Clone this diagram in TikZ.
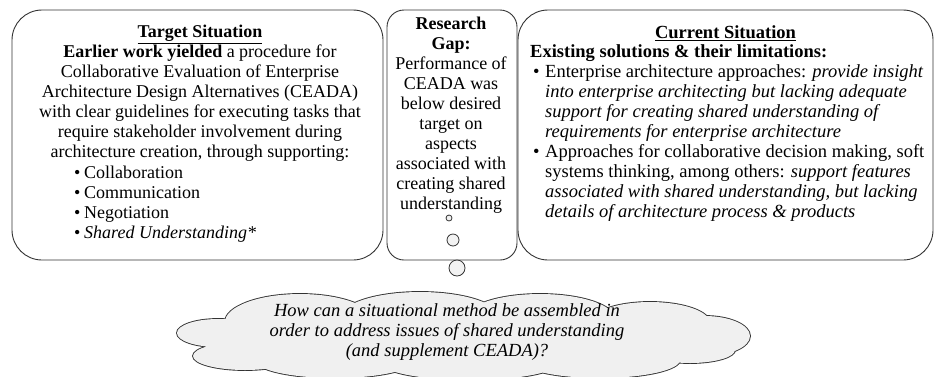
\documentclass[tikz,border=0pt]{standalone}
\usepackage{fontspec}
\setmainfont{Liberation Serif}
\usetikzlibrary{positioning}
\tikzset{
x=1pt, y=-1pt, % pixel-like units, y grows downwards
situation/.style={draw=black!80, line width=0.9pt, rounded corners=30pt, fill=white}, % the two situation boxes
gapbox/.style={situation, rounded corners=17pt}, % the research gap box
txt/.style={font=\fontsize{18}{20}\selectfont, inner sep=0pt}, % text inside the boxes
bigtxt/.style={font=\fontsize{18.5}{20}\selectfont, inner sep=0pt}, % slightly wider text on the right
bubble/.style={circle, draw=black!80, line width=0.8pt, fill=gray!10, inner sep=0pt}, % thought bubbles
puffline/.style={draw=black!80, line width=1.8pt, fill=gray!12}, % outline of the cloud, half of it gets covered
pufffill/.style={fill=gray!12}, % covers the inner lines of the cloud
}

\begin{document}
\begin{tikzpicture}
        \useasboundingbox (0,0) rectangle (936,376);
        \clip (0,0) rectangle (936,376);

        \node[situation, minimum width=371, minimum height=250] (target) at (197.5,135) {};
        \node[gapbox, minimum width=130, minimum height=250] (gap) at (452,135) {};
        \node[situation, minimum width=415, minimum height=250] (current) at (725.5,135) {};

        \node[bubble, minimum size=6] (b1) at (449,218) {};
        \node[bubble, minimum size=12] (b2) at (453,240) {};
        \node[bubble, minimum size=16] (b3) at (457,268) {};

        % question cloud, made of overlapping puffs
        \path[save path=\rqcloud]
              (300,322) ellipse [x radius=75, y radius=28]
              (420,318) ellipse [x radius=80, y radius=26]
              (540,319) ellipse [x radius=75, y radius=25]
              (650,323) ellipse [x radius=60, y radius=21]
              (705,336) ellipse [x radius=45, y radius=20]
              (218,333) ellipse [x radius=41, y radius=14]
              (245,356) ellipse [x radius=52, y radius=14]
              (335,360) ellipse [x radius=80, y radius=18]
              (470,362) ellipse [x radius=90, y radius=18]
              (600,360) ellipse [x radius=80, y radius=18]
              (690,350) ellipse [x radius=45, y radius=13]
              (463,338) ellipse [x radius=220, y radius=28];
        \draw[puffline, use path=\rqcloud];
        \fill[pufffill, use path=\rqcloud];

        % left box
        \node[txt, align=center, below=15.6pt of target.north, xshift=2.5pt] (targettxt) {\underline{\textbf{Target Situation}}\\
          \textbf{Earlier work yielded} a procedure for\\
          Collaborative Evaluation of Enterprise\\
          Architecture Design Alternatives (CEADA)\\
          with clear guidelines for executing tasks that\\
          require stakeholder involvement during\\
          architecture creation, through supporting:};
        \node[txt, align=left, anchor=north west] (targetlist) at (74,165.7) {\makebox[10pt][l]{\textbullet}Collaboration\\
          \makebox[10pt][l]{\textbullet}Communication\\
          \makebox[10pt][l]{\textbullet}Negotiation\\
          \makebox[10pt][l]{\textbullet}\textit{Shared Understanding*}};

        % middle box
        \node[txt, align=center, anchor=north] (gaptxt) at (451,17) {\textbf{Research}\\ \textbf{Gap:}\\ Performance of\\ CEADA was\\
          below desired\\ target on\\ aspects\\ associated with\\ creating shared\\ understanding};

        % right box
        \node[bigtxt, below=15.6pt of current.north] (curtitle) {\underline{\textbf{Current Situation}}};
        \node[bigtxt, align=left, anchor=north west] (curtxt) at (530,44.7) {\textbf{Existing solutions \& their limitations:}\\
          \hspace*{3pt}\makebox[12pt][l]{\textbullet}Enterprise architecture approaches: \textit{provide insight}\\
          \hspace*{15pt}\textit{into enterprise architecting but lacking adequate}\\
          \hspace*{15pt}\textit{support for creating shared understanding of}\\
          \hspace*{15pt}\textit{requirements for enterprise architecture}\\
          \hspace*{3pt}\makebox[12pt][l]{\textbullet}Approaches for collaborative decision making, soft\\
          \hspace*{15pt}systems thinking, among others: \textit{support features}\\
          \hspace*{15pt}\textit{associated with shared understanding, but lacking}\\
          \hspace*{15pt}\textit{details of architecture process \& products}};

        % question text
        \node[bigtxt, align=center, anchor=north, font=\fontsize{18.5}{20}\selectfont\itshape] (rqtxt) at (447,303.7) {How can a situational method be assembled in\\
          order to address issues of shared understanding\\
          (and supplement CEADA)?};

  \end{tikzpicture}
\end{document}
